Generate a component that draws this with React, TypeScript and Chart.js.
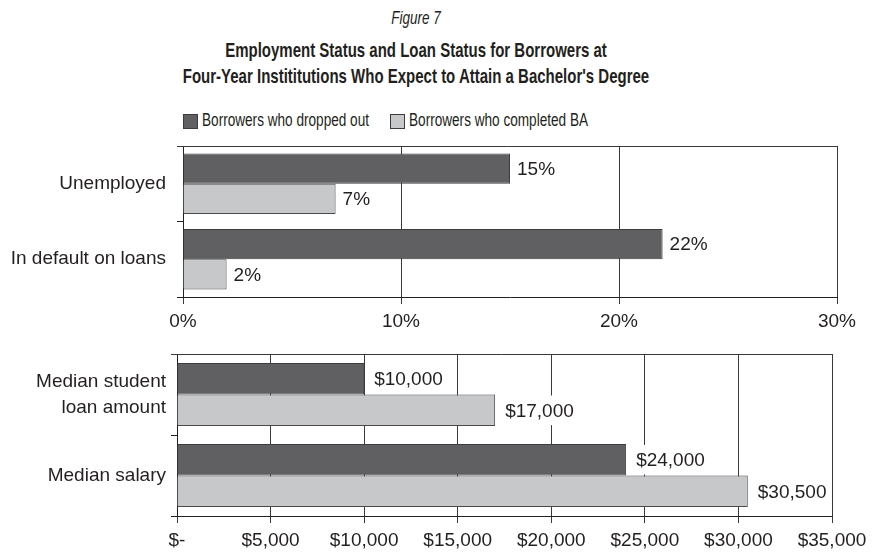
import React, { useEffect, useRef } from 'react';
import { Chart, registerables } from 'chart.js';

Chart.register(...registerables);

const seriesNames = ['Borrowers who dropped out', 'Borrowers who completed BA'];
const seriesColors = ['#606062', '#c7c8ca'];

const topCategories = ['Unemployed', 'In default on loans'];
const topDropped = [15, 22];
const topCompleted = [7, 2];
const topTicks = [0, 10, 20, 30];

const bottomCategories = [['Median student', 'loan amount'], 'Median salary'];
const bottomDropped = [10000, 24000];
const bottomCompleted = [17000, 30500];
const bottomTicks = [0, 5000, 10000, 15000, 20000, 25000, 30000, 35000];

const titleFigure = 'Figure 7';
const titleLines = [
  'Employment Status and Loan Status for Borrowers at',
  "Four-Year Instititutions Who Expect to Attain a Bachelor's Degree",
];

const FONT = '"Liberation Sans", Arial, sans-serif';
const TEXT = '#231f20';
const LINE = '#3a3a3a';
const AXIS_SIZE = 19;

const fmtPct = (v: number) => `${v}%`;
const fmtDollar = (v: number) => (v === 0 ? '$-' : '$' + v.toLocaleString('en-US'));

function labelPlugin(fmt: (v: number) => string, gap: number) {
  return {
    id: 'valueLabels',
    afterDatasetsDraw(chart: any) {
      const ctx = chart.ctx;
      ctx.save();
      ctx.font = `${AXIS_SIZE}px ${FONT}`;
      ctx.textBaseline = 'middle';
      ctx.textAlign = 'left';
      chart.data.datasets.forEach((ds: any, di: number) => {
        const meta = chart.getDatasetMeta(di);
        meta.data.forEach((bar: any, i: number) => {
          const text = fmt(ds.data[i]);
          const w = ctx.measureText(text).width;
          const h = bar.height;
          ctx.fillStyle = '#ffffff';
          ctx.fillRect(bar.x + 1, bar.y - h / 2 + 1, gap + w + 3, h - 2);
          ctx.fillStyle = TEXT;
          ctx.fillText(text, bar.x + gap, bar.y + 1);
        });
      });
      ctx.restore();
    },
  };
}

const framePlugin = {
  id: 'frameTop',
  afterDraw(chart: any) {
    const { ctx, chartArea } = chart;
    ctx.save();
    ctx.strokeStyle = LINE;
    ctx.lineWidth = 1;
    const y = Math.round(chartArea.top) + 0.5;
    ctx.beginPath();
    ctx.moveTo(Math.round(chartArea.left) - 6, y);
    ctx.lineTo(Math.round(chartArea.right) + 0.5, y);
    ctx.stroke();
    ctx.restore();
  },
};

function makeConfig(opts: {
  labels: any[];
  dropped: number[];
  completed: number[];
  ticks: number[];
  fmt: (v: number) => string;
  yWidth: number;
  xHeight: number;
  yPad: number;
  catPct: number;
  padding: any;
  gap: number;
}) {
  const { labels, dropped, completed, ticks, fmt } = opts;
  return {
    type: 'bar' as const,
    data: {
      labels,
      datasets: [
        {
          label: seriesNames[0],
          data: dropped,
          backgroundColor: seriesColors[0],
          borderColor: '#3c3c3e',
          borderWidth: 1,
          categoryPercentage: opts.catPct,
          barPercentage: 1,
        },
        {
          label: seriesNames[1],
          data: completed,
          backgroundColor: seriesColors[1],
          borderColor: '#4a4a4c',
          borderWidth: 1,
          categoryPercentage: opts.catPct,
          barPercentage: 1,
        },
      ],
    },
    options: {
      indexAxis: 'y' as const,
      animation: false as const,
      responsive: true,
      maintainAspectRatio: false,
      layout: { padding: opts.padding },
      plugins: {
        legend: { display: false },
        title: { display: false },
        tooltip: { enabled: false },
      },
      scales: {
        x: {
          min: ticks[0],
          max: ticks[ticks.length - 1],
          afterBuildTicks: (scale: any) => {
            scale.ticks = ticks.map((v) => ({ value: v }));
          },
          afterFit: (scale: any) => {
            scale.height = opts.xHeight;
            scale.paddingLeft = 0;
            scale.paddingRight = 0;
          },
          grid: {
            color: LINE,
            lineWidth: 1,
            drawTicks: true,
            tickLength: 7,
            tickColor: LINE,
          },
          border: { color: '#222', width: 1 },
          ticks: {
            padding: 6,
            color: TEXT,
            font: { family: FONT, size: AXIS_SIZE },
            maxRotation: 0,
            autoSkip: false,
            callback: (v: any) => fmt(Number(v)),
          },
        },
        y: {
          afterFit: (scale: any) => {
            scale.width = opts.yWidth;
            scale.paddingTop = 0;
            scale.paddingBottom = 0;
          },
          grid: {
            offset: true,
            drawOnChartArea: false,
            drawTicks: true,
            tickLength: 6,
            color: '#222',
          },
          border: { color: '#222', width: 1 },
          ticks: {
            padding: opts.yPad,
            color: TEXT,
            font: { family: FONT, size: AXIS_SIZE, lineHeight: 1.35 },
          },
        },
      },
    },
    plugins: [labelPlugin(fmt, opts.gap), framePlugin],
  };
}

export default function App() {
  const topRef = useRef<HTMLCanvasElement | null>(null);
  const botRef = useRef<HTMLCanvasElement | null>(null);

  useEffect(() => {
    const top = new Chart(
      topRef.current as HTMLCanvasElement,
      makeConfig({
        labels: topCategories,
        dropped: topDropped,
        completed: topCompleted,
        ticks: topTicks,
        fmt: fmtPct,
        yWidth: 183,
        xHeight: 43,
        yPad: 11,
        catPct: 0.8,
        padding: { top: 6, right: 53, bottom: 0, left: 0 },
        gap: 7,
      }) as any
    );
    const bot = new Chart(
      botRef.current as HTMLCanvasElement,
      makeConfig({
        labels: bottomCategories,
        dropped: bottomDropped,
        completed: bottomCompleted,
        ticks: bottomTicks,
        fmt: fmtDollar,
        yWidth: 177,
        xHeight: 36,
        yPad: 5,
        catPct: 0.78,
        padding: { top: 14, right: 58, bottom: 0, left: 0 },
        gap: 10,
      }) as any
    );
    return () => {
      top.destroy();
      bot.destroy();
    };
  }, []);

  const txt: React.CSSProperties = {
    position: 'absolute',
    left: 0,
    width: 832,
    textAlign: 'center',
    fontFamily: FONT,
    color: TEXT,
    whiteSpace: 'nowrap',
  };

  return (
    <div
      style={{
        position: 'absolute',
        left: 0,
        top: 0,
        width: 890,
        height: 552,
        background: '#ffffff',
        overflow: 'hidden',
      }}
    >
      <div
        style={{
          ...txt,
          top: 9,
          fontSize: 13.5,
          lineHeight: '20px',
          fontStyle: 'italic',
          transform: 'scaleY(1.35)',
        }}
      >
        {titleFigure}
      </div>
      {titleLines.map((l, i) => (
        <div
          key={i}
          style={{
            ...txt,
            top: 37 + i * 26,
            fontSize: 15,
            lineHeight: '26px',
            fontWeight: 'bold',
            transform: 'scaleY(1.4)',
          }}
        >
          {l}
        </div>
      ))}
      {seriesNames.map((name, i) => (
        <div
          key={name}
          style={{
            position: 'absolute',
            top: 113,
            left: i === 0 ? 183 : 390,
            height: 16,
            display: 'flex',
            alignItems: 'center',
            fontFamily: FONT,
            fontSize: 13.6,
            color: TEXT,
            whiteSpace: 'nowrap',
          }}
        >
          <span
            style={{
              display: 'inline-block',
              width: 13,
              height: 13,
              background: seriesColors[i],
              border: '1px solid #3c3c3e',
              marginRight: 4,
            }}
          />
          <span style={{ lineHeight: '16px', display: 'inline-block', transform: 'scaleY(1.35)' }}>
            {name}
          </span>
        </div>
      ))}
      <div style={{ position: 'absolute', left: 0, top: 140, width: 890, height: 200 }}>
        <canvas ref={topRef} />
      </div>
      <div style={{ position: 'absolute', left: 0, top: 340, width: 890, height: 212 }}>
        <canvas ref={botRef} />
      </div>
    </div>
  );
}
